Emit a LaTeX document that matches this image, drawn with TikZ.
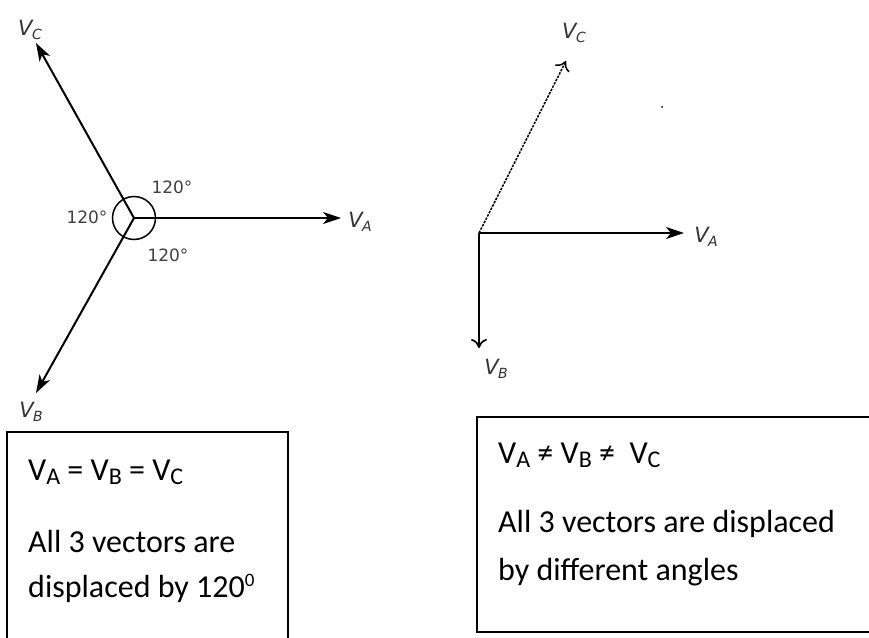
\documentclass[tikz,border=0pt]{standalone}
\usepackage{fontspec}
\setmainfont{Carlito}
\newfontfamily\dsans{DejaVu Sans}
\usetikzlibrary{arrows.meta}
\newcommand{\vlab}[1]{{\dsans\itshape V\kern-0.5pt\raisebox{-4pt}{\fontsize{14}{14}\selectfont #1}}}
\newcommand{\bsub}[1]{\raisebox{-4.5pt}{\fontsize{24}{24}\selectfont #1}}
\begin{document}
\begin{tikzpicture}[x=1pt,y=-1pt,
  vec/.style={line width=2pt,-{Stealth[length=18pt,width=12pt,inset=5pt]}},
  openvec/.style={line width=1.7pt,-{To[length=9pt,width=16pt]}},
  vlabel/.style={inner sep=0pt,text=black!80,font=\fontsize{21}{21}\selectfont},
  anglab/.style={inner sep=0pt,text=black!75,font=\dsans\fontsize{17}{17}\selectfont},
  boxtext/.style={inner sep=0pt,anchor=base west,font=\fontsize{32}{32}\selectfont},
  boxline/.style={line width=1.8pt}]
\useasboundingbox (0,0) rectangle (869,637);
\fill[white] (0,0) rectangle (869,637);
% left phasor diagram
\coordinate (O) at (134,218);
\coordinate (A) at (341,218);
\coordinate (C) at (36,43);
\coordinate (B) at (36,393);
\draw[vec] (O) -- (A);
\draw[vec] (O) -- (C);
\draw[vec] (O) -- (B);
\draw[line width=1.5pt] (O) circle[radius=21.5pt];
\node[vlabel] (lA) at (360,222) {\vlab{A}};
\node[vlabel] (lC) at (30,30) {\vlab{C}};
\node[vlabel] (lB) at (31,412) {\vlab{B}};
\node[anglab] (a1) at (172,187) {120°};
\node[anglab] (a2) at (87,217) {120°};
\node[anglab] (a3) at (168,255) {120°};
% right phasor diagram
\coordinate (O2) at (479,233);
\coordinate (A2) at (684,233);
\coordinate (C2) at (566,61);
\coordinate (B2) at (479,348);
\draw[vec] (O2) -- (A2);
\draw[openvec,dash pattern=on 2.5pt off 1.2pt,line width=1.5pt] (O2) -- (C2);
\draw[openvec] (O2) -- (B2);
\node[vlabel] (rA) at (706,237) {\vlab{A}};
\node[vlabel] (rC) at (574,33) {\vlab{C}};
\node[vlabel] (rB) at (496,369) {\vlab{B}};
\fill (662,107) circle[radius=1pt];
% left box
\coordinate (L1) at (7,640);
\coordinate (L2) at (7,432);
\coordinate (L3) at (288,432);
\coordinate (L4) at (288,640);
\draw[boxline] (L1) -- (L2) -- (L3) -- (L4);
\node[boxtext] (t1) at (28,480) {V\bsub{A} = V\bsub{B} = V\bsub{C}};
\node[boxtext] (t2) at (28,552) {All 3 vectors are};
\node[boxtext] (t3) at (28,597) {displaced by 120\raisebox{11pt}{\fontsize{19}{19}\selectfont 0}};
% right box
\coordinate (R1) at (872,417);
\coordinate (R2) at (477,417);
\coordinate (R3) at (477,632);
\coordinate (R4) at (872,632);
\draw[boxline] (R1) -- (R2) -- (R3) -- (R4);
\node[boxtext] (s1) at (498,463) {V\bsub{A} ≠ V\bsub{B} ≠ \ V\bsub{C}};
\node[boxtext] (s2) at (498,532) {All 3 vectors are displaced};
\node[boxtext] (s3) at (498,580) {by different angles};
\end{tikzpicture}
\end{document}
